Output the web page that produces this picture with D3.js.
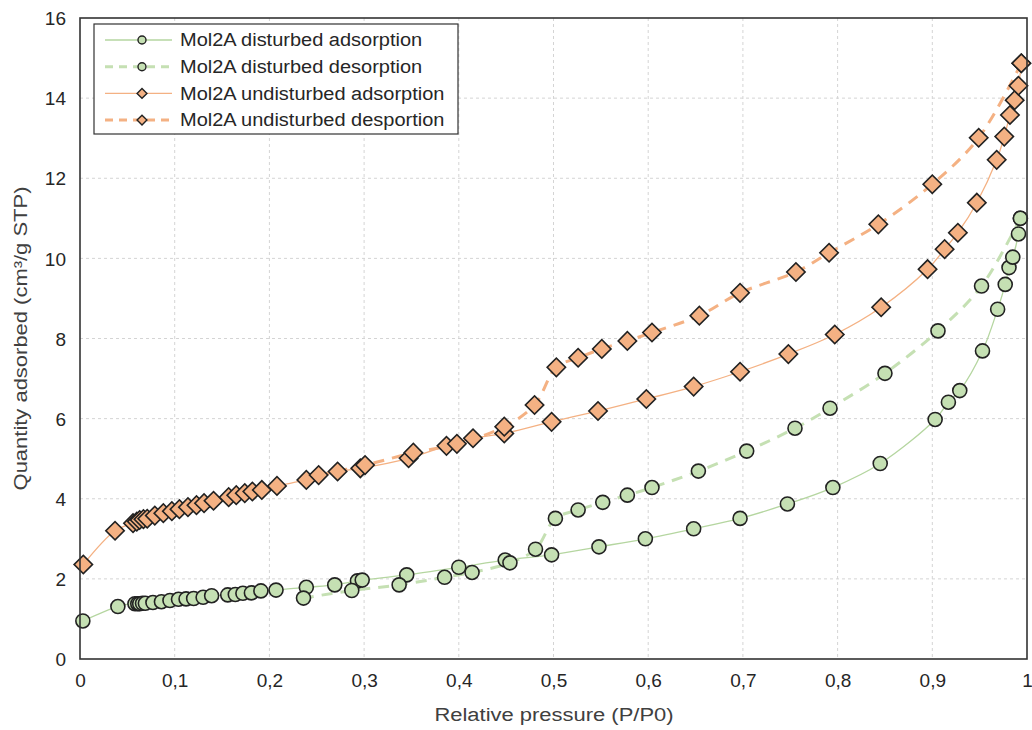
<!DOCTYPE html>
<html>
<head>
<meta charset="utf-8">
<script src="https://cdn.jsdelivr.net/npm/d3@7"></script>
<style>
  body { margin: 0; background: #fff; }
  text { font-family: "Liberation Sans", Arial, sans-serif; }
</style>
</head>
<body>
<div id="chart"></div>
<script>
// relative pressure / quantity adsorbed
const distAdsX = [0.003, 0.040, 0.058, 0.061, 0.063, 0.066, 0.069, 0.077, 0.086, 0.095, 0.104, 0.112, 0.120, 0.130, 0.139, 0.156, 0.164, 0.172, 0.181, 0.191, 0.207, 0.239, 0.269, 0.293, 0.298, 0.345, 0.400, 0.449, 0.498, 0.548, 0.597, 0.648, 0.697, 0.747, 0.795, 0.845, 0.903, 0.917, 0.929, 0.953, 0.969, 0.977, 0.981, 0.985, 0.991, 0.993];
const distAdsY = [0.95, 1.31, 1.38, 1.38, 1.38, 1.39, 1.39, 1.41, 1.43, 1.46, 1.49, 1.50, 1.51, 1.54, 1.58, 1.60, 1.61, 1.64, 1.65, 1.70, 1.72, 1.79, 1.85, 1.95, 1.97, 2.10, 2.29, 2.47, 2.60, 2.80, 3.00, 3.25, 3.51, 3.87, 4.28, 4.88, 5.98, 6.41, 6.70, 7.69, 8.73, 9.35, 9.77, 10.03, 10.61, 11.00];

const distDesX = [0.993, 0.952, 0.906, 0.850, 0.792, 0.755, 0.704, 0.653, 0.604, 0.578, 0.552, 0.526, 0.502, 0.481, 0.454, 0.414, 0.385, 0.337, 0.287, 0.236];
const distDesY = [11.00, 9.31, 8.19, 7.13, 6.26, 5.76, 5.19, 4.69, 4.28, 4.09, 3.91, 3.72, 3.51, 2.74, 2.40, 2.16, 2.04, 1.85, 1.71, 1.52];

const undAdsX = [0.0035, 0.037, 0.056, 0.060, 0.063, 0.067, 0.071, 0.079, 0.088, 0.097, 0.105, 0.114, 0.123, 0.131, 0.141, 0.157, 0.165, 0.174, 0.182, 0.192, 0.208, 0.239, 0.272, 0.296, 0.347, 0.387, 0.415, 0.448, 0.498, 0.547, 0.598, 0.648, 0.697, 0.748, 0.797, 0.846, 0.895, 0.913, 0.927, 0.947, 0.968, 0.976, 0.982, 0.987, 0.991, 0.994];
const undAdsY = [2.36, 3.20, 3.39, 3.43, 3.47, 3.49, 3.50, 3.58, 3.64, 3.69, 3.74, 3.79, 3.84, 3.89, 3.95, 4.04, 4.09, 4.14, 4.18, 4.22, 4.32, 4.47, 4.68, 4.76, 5.01, 5.32, 5.51, 5.63, 5.92, 6.19, 6.49, 6.80, 7.17, 7.61, 8.10, 8.78, 9.73, 10.23, 10.64, 11.39, 12.46, 13.04, 13.58, 13.95, 14.31, 14.87];

const undDesX = [0.994, 0.949, 0.900, 0.843, 0.791, 0.756, 0.697, 0.654, 0.604, 0.578, 0.551, 0.526, 0.503, 0.480, 0.448, 0.398, 0.352, 0.301, 0.252];
const undDesY = [14.87, 13.01, 11.85, 10.85, 10.14, 9.66, 9.14, 8.57, 8.15, 7.94, 7.74, 7.52, 7.28, 6.34, 5.80, 5.37, 5.15, 4.84, 4.59];

const seriesNames = ["Mol2A disturbed adsorption", "Mol2A disturbed desorption", "Mol2A undisturbed adsorption", "Mol2A undisturbed desportion"];
const xTicks = [0, 0.1, 0.2, 0.3, 0.4, 0.5, 0.6, 0.7, 0.8, 0.9, 1];
const yTicks = [0, 2, 4, 6, 8, 10, 12, 14, 16];

const zip = (xs, ys) => xs.map((x, i) => ({x: x, y: ys[i]}));

const series = [
    {name: seriesNames[0], pts: zip(distAdsX, distAdsY), line: "#b5d6a0", width: 1.3, dash: null, fill: "#c5e0b3", shape: "circle"},
    {name: seriesNames[1], pts: zip(distDesX, distDesY), line: "#c5e0b3", width: 3, dash: "11,8", fill: "#c5e0b3", shape: "circle"},
    {name: seriesNames[2], pts: zip(undAdsX, undAdsY), line: "#f4b183", width: 1.3, dash: null, fill: "#f4b183", shape: "diamond"},
    {name: seriesNames[3], pts: zip(undDesX, undDesY), line: "#f4b183", width: 3, dash: "11,8", fill: "#f4b183", shape: "diamond"}
];

const W = 1032, H = 730;
const margin = {top: 18, right: 5, bottom: 71, left: 80};
const iw = W - margin.left - margin.right,
      ih = H - margin.top - margin.bottom;

const svg = d3.select("#chart").append("svg")
    .attr("width", W)
    .attr("height", H);

const g = svg.append("g")
    .attr("transform", `translate(${margin.left},${margin.top})`);

const x = d3.scaleLinear().domain([0, 1]).range([0, iw]);
const y = d3.scaleLinear().domain([0, 16]).range([ih, 0]);

const fmt = d => d3.format(".1~f")(d).replace(".", ",");

// the original text is drawn a bit wider than Arial, stretch it
const stretch = (sel, k) => sel.each(function() {
    const len = this.getComputedTextLength();
    d3.select(this).attr("textLength", len * k).attr("lengthAdjust", "spacingAndGlyphs");
});

// grid
g.append("g").selectAll("line")
    .data(xTicks.slice(1, -1))
    .enter().append("line")
    .attr("x1", d => x(d)).attr("x2", d => x(d))
    .attr("y1", 0).attr("y2", ih)
    .attr("stroke", "#d4d4d4").attr("stroke-dasharray", "3,3");
g.append("g").selectAll("line")
    .data(yTicks.slice(1, -1))
    .enter().append("line")
    .attr("x1", 0).attr("x2", iw)
    .attr("y1", d => y(d)).attr("y2", d => y(d))
    .attr("stroke", "#d4d4d4").attr("stroke-dasharray", "3,3");

// axes (labels only, frame drawn below)
const xAxis = g.append("g")
    .attr("transform", `translate(0,${ih})`)
    .call(d3.axisBottom(x).tickValues(xTicks).tickFormat(fmt).tickSize(0).tickPadding(15));
const yAxis = g.append("g")
    .call(d3.axisLeft(y).tickValues(yTicks).tickFormat(d3.format("d")).tickSize(0).tickPadding(14));
[xAxis, yAxis].forEach(a => {
    a.select(".domain").remove();
    a.selectAll("text")
        .style("font-size", "19px")
        .attr("fill", "#262626")
        .attr("font-family", "'Liberation Sans', Arial, sans-serif");
});
yAxis.selectAll("text").attr("dy", "0.35em");

// lines
const line = d3.line()
    .x(d => x(d.x))
    .y(d => y(d.y))
    .curve(d3.curveCatmullRom.alpha(0.5));

const symbolFor = s => s.shape === "circle"
    ? d3.symbol().type(d3.symbolCircle).size(Math.PI * 7 * 7)
    : d3.symbol().type(d3.symbolSquare).size(13 * 13);

series.forEach(s => {
    g.append("path")
        .datum(s.pts)
        .attr("fill", "none")
        .attr("stroke", s.line)
        .attr("stroke-width", s.width)
        .attr("stroke-dasharray", s.dash)
        .attr("d", line);
});
series.forEach(s => {
    g.append("g").selectAll("path")
        .data(s.pts)
        .enter().append("path")
        .attr("d", symbolFor(s))
        .attr("transform", d => `translate(${x(d.x)},${y(d.y)})` + (s.shape === "diamond" ? " rotate(45)" : ""))
        .attr("fill", s.fill)
        .attr("stroke", "#222")
        .attr("stroke-width", 1.6);
});

// plot frame
g.append("rect")
    .attr("x", 0).attr("y", 0)
    .attr("width", iw).attr("height", ih)
    .attr("fill", "none")
    .attr("stroke", "#333")
    .attr("stroke-width", 1.6);

// axis titles
svg.append("text")
    .attr("x", 554)
    .attr("y", 721)
    .attr("text-anchor", "middle")
    .style("font-size", "18px")
    .attr("fill", "#404040")
    .text("Relative pressure (P/P0)")
    .call(stretch, 1.22);
svg.append("text")
    .attr("transform", `translate(27,${margin.top + ih / 2}) rotate(-90)`)
    .attr("text-anchor", "middle")
    .style("font-size", "18px")
    .attr("fill", "#404040")
    .text("Quantity adsorbed (cm³/g STP)")
    .call(stretch, 1.22);

// legend
const legend = svg.append("g").attr("transform", "translate(94,24)");
legend.append("rect")
    .attr("width", 364).attr("height", 110)
    .attr("fill", "#fff")
    .attr("stroke", "#333")
    .attr("stroke-width", 1.2);
const rows = legend.selectAll("g.row")
    .data(series)
    .enter().append("g")
    .attr("class", "row")
    .attr("transform", (d, i) => `translate(0,${16 + i * 26.7})`);
rows.append("line")
    .attr("x1", 11).attr("x2", 78)
    .attr("stroke", d => d.line)
    .attr("stroke-width", d => d.width)
    .attr("stroke-dasharray", d => d.dash ? "8,6" : null);
rows.append("path")
    .attr("d", d => d.shape === "circle"
        ? d3.symbol().type(d3.symbolCircle).size(Math.PI * 4 * 4)()
        : d3.symbol().type(d3.symbolSquare).size(7 * 7)())
    .attr("transform", d => "translate(48,0)" + (d.shape === "diamond" ? " rotate(45)" : ""))
    .attr("fill", d => d.fill)
    .attr("stroke", "#222")
    .attr("stroke-width", 1.4);
rows.append("text")
    .attr("x", 86)
    .attr("dy", "0.35em")
    .style("font-size", "18px")
    .attr("fill", "#262626")
    .text(d => d.name)
    .call(stretch, 1.11);
</script>
</body>
</html>
